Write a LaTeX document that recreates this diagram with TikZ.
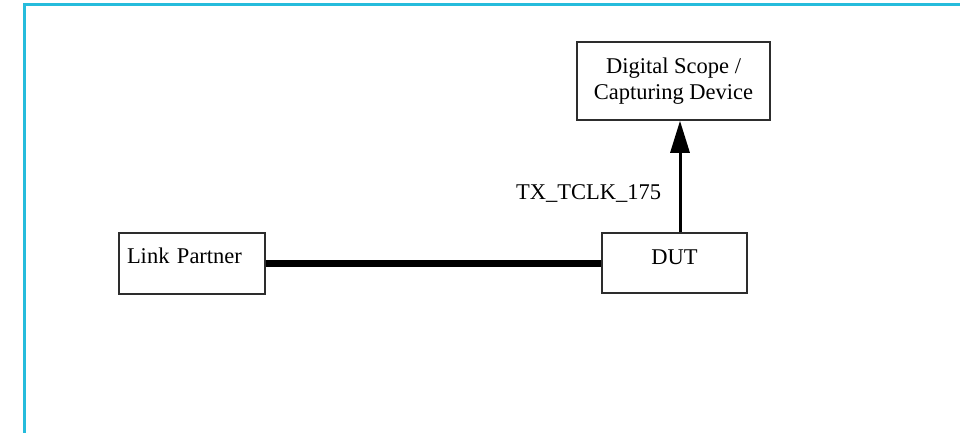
\documentclass[tikz,border=0pt]{standalone}
\usepackage{fontspec}
\setmainfont{Liberation Serif}
\usetikzlibrary{arrows.meta,positioning}
\definecolor{framecyan}{RGB}{38,188,220}
\definecolor{boxgray}{RGB}{45,45,45}
\tikzset{
  box/.style={draw=boxgray, line width=1.5pt, inner sep=0pt},
  link/.style={line width=7pt},
  sig/.style={line width=3pt, -{Triangle[length=32pt,width=19pt]}},
}
\begin{document}
\begin{tikzpicture}[x=1pt,y=-1pt,font=\fontsize{22.5}{26}\selectfont]
\useasboundingbox (0,0) rectangle (960,433);
% cadre
\draw[framecyan, line width=3pt] (960,4.5) -- (24.5,4.5) -- (24.5,433);
% boites
\node[box, minimum width=146pt, minimum height=61pt, text width=130pt, align=left, text depth=15pt] (partner) at (192,263.5) {Link Partner};
\node[box, minimum width=145pt, minimum height=60pt, text depth=11pt] (dut) at (674.5,263) {DUT};
\node[box, minimum width=193pt, minimum height=78pt, align=center] (scope) at (673.5,81) {Digital Scope /\\Capturing Device};
% liaison et signal
\draw[link] (partner.east) -- (partner.east -| dut.west);
\draw[sig] ([xshift=5.5pt]dut.north) -- ([xshift=5.5pt]dut.north |- scope.south) node[pos=0.35, left=14pt] (clk) {TX\_TCLK\_175};
\end{tikzpicture}
\end{document}
